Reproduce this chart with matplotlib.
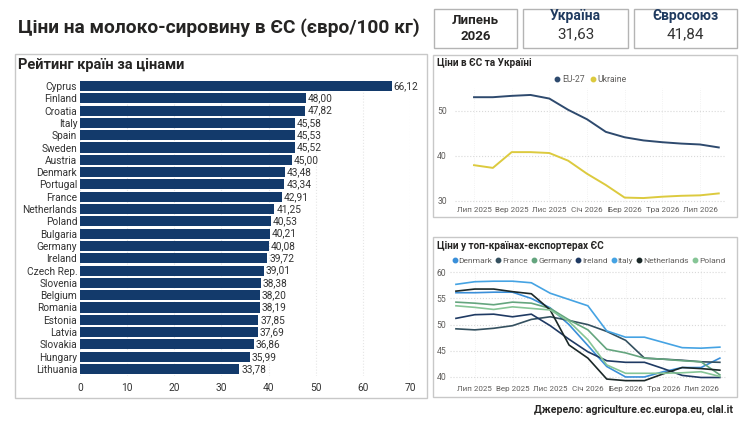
import matplotlib
matplotlib.use("Agg")
import matplotlib.pyplot as plt
from matplotlib.patches import Rectangle
from matplotlib.lines import Line2D

plt.rcParams['font.family'] = ['Roboto', 'DejaVu Sans']

# ---- data ----
countries = ['Cyprus', 'Finland', 'Croatia', 'Italy', 'Spain', 'Sweden', 'Austria',
             'Denmark', 'Portugal', 'France', 'Netherlands', 'Poland', 'Bulgaria',
             'Germany', 'Ireland', 'Czech Rep.', 'Slovenia', 'Belgium', 'Romania',
             'Estonia', 'Latvia', 'Slovakia', 'Hungary', 'Lithuania']
prices = [66.12, 48.00, 47.82, 45.58, 45.53, 45.52, 45.00, 43.48, 43.34, 42.91,
          41.25, 40.53, 40.21, 40.08, 39.72, 39.01, 38.38, 38.20, 38.19, 37.85,
          37.69, 36.86, 35.99, 33.78]

# EU vs Ukraine, Jul 2025 .. Aug 2026
eu_ua_months = ['Лип 2025', 'Сер 2025', 'Вер 2025', 'Жов 2025', 'Лис 2025', 'Гру 2025',
                'Січ 2026', 'Лют 2026', 'Бер 2026', 'Кві 2026', 'Тра 2026', 'Чер 2026',
                'Лип 2026', 'Сер 2026']
eu27 = [53.0, 53.0, 53.3, 53.5, 52.7, 50.2, 48.1, 45.3, 44.1, 43.4, 43.0, 42.7, 42.5, 41.84]
ukraine = [37.9, 37.3, 40.8, 40.8, 40.6, 38.9, 36.0, 33.5, 30.7, 30.6, 30.9, 31.1, 31.2, 31.63]

# top exporters, Jun 2025 .. Aug 2026
exp_months = ['Чер 2025'] + eu_ua_months
denmark = [56.1, 56.1, 56.2, 56.2, 55.0, 53.2, 50.0, 46.0, 42.0, 40.0, 40.0, 41.0, 41.8, 41.8, 43.6]
france = [49.2, 49.0, 49.3, 49.8, 51.0, 51.5, 50.8, 50.0, 48.7, 47.0, 43.6, 43.4, 43.2, 42.9, 42.8]
germany = [54.3, 54.1, 53.8, 54.3, 54.1, 53.1, 50.9, 49.0, 45.3, 44.6, 43.6, 43.4, 43.1, 42.9, 40.4]
ireland = [51.2, 51.9, 52.0, 51.5, 52.0, 49.8, 47.2, 44.8, 43.1, 42.8, 42.8, 41.6, 40.3, 39.9, 39.9]
italy = [57.7, 58.2, 58.3, 58.3, 58.0, 56.0, 54.8, 53.6, 48.8, 47.6, 47.6, 46.6, 45.6, 45.5, 45.7]
netherlands = [56.4, 56.8, 56.8, 56.3, 55.9, 52.8, 46.1, 43.6, 39.6, 39.3, 39.3, 40.6, 41.8, 41.6, 41.3]
poland = [53.6, 53.3, 52.9, 53.4, 53.1, 52.8, 50.6, 47.1, 42.3, 40.7, 40.7, 40.7, 40.8, 41.0, 40.1]

exporters = ['Denmark', 'France', 'Germany', 'Ireland', 'Italy', 'Netherlands', 'Poland']
exp_series = [denmark, france, germany, ireland, italy, netherlands, poland]
exp_colors = ['#3a8fd9', '#34505f', '#64a57e', '#1f3a63', '#45a3e3', '#1b2828', '#86c596']

W, H = 750, 424
NAVY = '#133a6b'
TXT = '#252423'
GREY = '#605e5c'


def fmt(v):
    return f'{v:.2f}'.replace('.', ',')


def px_axes(fig, x0, y0, x1, y1):
    # pixel box (top-left origin) -> axes
    return fig.add_axes([x0 / W, 1 - y1 / H, (x1 - x0) / W, (y1 - y0) / H])


fig = plt.figure(figsize=(7.5, 4.24), dpi=100)
fig.patch.set_facecolor('white')

# background canvas in pixel coords
bg = fig.add_axes([0, 0, 1, 1])
bg.set_xlim(0, W)
bg.set_ylim(H, 0)
bg.axis('off')


def box(x0, y0, x1, y1, ec='#c8c8c8', lw=1.0):
    bg.add_patch(Rectangle((x0, y0), x1 - x0, y1 - y0, fill=False, ec=ec, lw=lw))


bg.text(18, 28, 'Ціни на молоко-сировину в ЄС (євро/100 кг)', fontsize=13.8,
        fontweight='bold', color=TXT, va='center', ha='left')

# header cards
box(434, 9, 517, 48, ec='#b4b4b4')
box(523, 9, 628, 48, ec='#b4b4b4')
box(634, 9, 737, 48, ec='#b4b4b4')
bg.text(475.5, 21, 'Липень', fontsize=9.5, fontweight='bold', color=TXT, ha='center', va='center')
bg.text(475.5, 36.5, '2026', fontsize=9.5, fontweight='bold', color=TXT, ha='center', va='center')
bg.text(575.5, 16, 'Україна', fontsize=10, fontweight='bold', color='#1f3a5f', ha='center', va='center')
bg.text(575.5, 34.5, fmt(ukraine[-1]), fontsize=11, color='#333333', ha='center', va='center')
bg.text(685.5, 16, 'Євросоюз', fontsize=10, fontweight='bold', color='#1f3a5f', ha='center', va='center')
bg.text(685.5, 34.5, fmt(eu27[-1]), fontsize=11, color='#333333', ha='center', va='center')

# panels
box(15, 54, 427, 398)
box(433, 55, 737, 217)
box(433, 237, 737, 397)

bg.text(18, 65, 'Рейтинг країн за цінами', fontsize=10.5, fontweight='bold',
        color=TXT, ha='left', va='center')
bg.text(437, 63, 'Ціни в ЄС та Україні', fontsize=7.2, fontweight='bold',
        color=TXT, ha='left', va='center')
bg.text(437, 246, 'Ціни у топ-країнах-експортерах ЄС', fontsize=7.2, fontweight='bold',
        color=TXT, ha='left', va='center')
bg.text(733, 410, 'Джерело: agriculture.ec.europa.eu, clal.it', fontsize=7.6,
        fontweight='bold', color=TXT, ha='right', va='center')

# ---- bar chart ----
ax = px_axes(fig, 80, 78.6, 410, 376.4)
ypos = list(range(len(countries)))
ax.barh(ypos, prices, height=0.82, color=NAVY)
for y, v in zip(ypos, prices):
    ax.text(v + 0.4, y, fmt(v), fontsize=7.3, color='#333333', va='center', ha='left')
ax.set_yticks(ypos)
ax.set_yticklabels(countries, fontsize=7.3, color='#333333')
ax.set_ylim(len(countries) - 0.4, -0.6)
ax.set_xlim(0, 70)
ax.set_xticks(range(0, 71, 10))
ax.tick_params(axis='x', labelsize=7.3, colors='#333333', length=0, pad=5)
ax.tick_params(axis='y', length=0, pad=2)
ax.grid(axis='x', color='#e6e6e6', linestyle=':', linewidth=0.8)
ax.set_axisbelow(True)
for s in ax.spines.values():
    s.set_visible(False)


def style_line_axes(a):
    a.tick_params(labelsize=5.8, colors=GREY, length=0)
    a.grid(axis='y', color='#d9d9d9', linestyle=':', linewidth=0.8)
    a.grid(axis='x', color='#eeeeee', linestyle=':', linewidth=0.6)
    a.set_axisbelow(True)
    for s in a.spines.values():
        s.set_visible(False)


# ---- EU vs Ukraine ----
ax2 = px_axes(fig, 455.2, 88.2, 726.3, 203)
x1 = list(range(len(eu_ua_months)))
ax2.plot(x1, eu27, color='#2e4a6e', lw=1.4)
ax2.plot(x1, ukraine, color='#dcca3e', lw=1.4)
ax2.set_xlim(-1, 13.4)
ax2.set_ylim(29.5, 55)
ax2.set_yticks([30, 40, 50])
ax2.set_xticks(x1[::2])
ax2.set_xticklabels(eu_ua_months[::2])
style_line_axes(ax2)
ax2.tick_params(axis='y', pad=6, labelsize=6.2)
ax2.tick_params(axis='x', pad=3)
h1 = [Line2D([], [], marker='o', ls='none', ms=3.2, color=c) for c in ['#2e4a6e', '#dcca3e']]
ax2.legend(h1, ['EU-27', 'Ukraine'], loc='lower center', bbox_to_anchor=(0.5, 1.0),
           ncol=2, frameon=False, fontsize=6.2, handlelength=0.6, handletextpad=0.3,
           columnspacing=0.6, borderaxespad=0.1, labelcolor=GREY)

# ---- exporters ----
ax3 = px_axes(fig, 450.3, 265.5, 727.4, 382.2)
x2 = list(range(len(exp_months)))
for name, vals, c in zip(exporters, exp_series, exp_colors):
    ax3.plot(x2, vals, color=c, lw=1.2)
ax3.set_xlim(-0.3, 14.4)
ax3.set_ylim(39, 61.3)
ax3.set_yticks([40, 45, 50, 55, 60])
ax3.set_xticks(x2[1::2])
ax3.set_xticklabels(exp_months[1::2])
style_line_axes(ax3)
ax3.tick_params(axis='y', pad=3, labelsize=6.2)
ax3.tick_params(axis='x', pad=3)
h2 = [Line2D([], [], marker='o', ls='none', ms=3.2, color=c) for c in exp_colors]
ax3.legend(h2, exporters, loc='lower center', bbox_to_anchor=(0.5, 0.98),
           ncol=7, frameon=False, fontsize=6.0, handlelength=0.5, handletextpad=0.25,
           columnspacing=0.45, borderaxespad=0.1, labelcolor=GREY)

fig.savefig('out.png', dpi=100, facecolor='white')
